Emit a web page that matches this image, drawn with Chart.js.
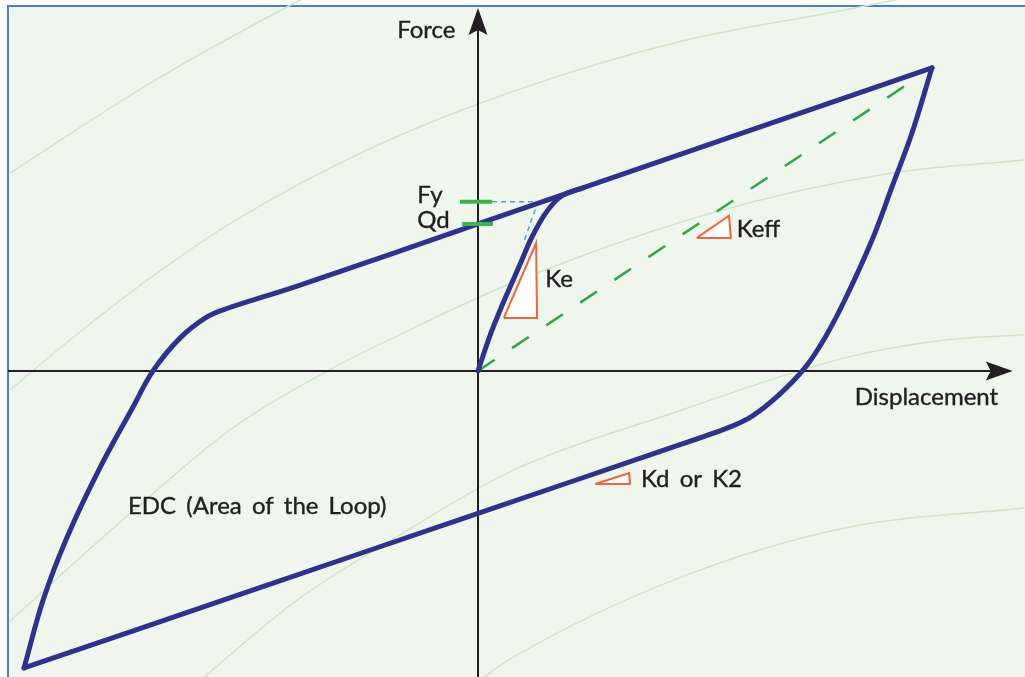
<!DOCTYPE html>
<html lang="en">
<head>
<meta charset="UTF-8">
<title>Hysteresis loop</title>
<script src="https://cdn.jsdelivr.net/npm/chart.js"></script>
<style>
    html, body { margin: 0; padding: 0; background: #fff; overflow: hidden; }
    .frame {
        position: absolute; left: 7px; top: 5px; width: 1100px; height: 760px;
        background: #eff7ed;
        border-top: 2px solid #4a7ed6; border-left: 2px solid #4a7ed6;
    }
    #loopChart { position: absolute; left: 0; top: 0; }
</style>
</head>
<body>
<div class="frame"></div>
<canvas id="loopChart" width="1025" height="677"></canvas>
<script>
// displacement and force, both in % of the peak response
const upperDisp  = [-100, -95.8, -90.5, -83.3, -76.0, -71.6, -65.6, -59.7, -55.3, -40, 0, 100];
const upperForce = [-98, -75.6, -54.8, -32.0, -11.9, 0, 10.9, 17.8, 20.6, 27.9, 48.5, 100];

const lowerDisp  = [100, 95.6, 91.2, 86.8, 80.8, 76.4, 72.0, 66.3, 60.4, 55.3, 40, 0, -50, -100];
const lowerForce = [100, 78.5, 60.7, 43.2, 23.4, 10.9, 1.0, -7.9, -14.9, -18.6, -26.6, -47, -72.5, -98];

// first loading from rest
const initDisp  = [0, 2.6, 5.0, 7.3, 9.5, 11.5, 13.6, 15.6, 17.6, 19.8, 23];
const initForce = [0, 11.5, 20.5, 28.5, 36.0, 43.0, 49.0, 53.5, 56.8, 58.8, 60.3];

// secant to the peak (Keff)
const keffDisp  = [0, 96.5];
const keffForce = [0, 96.5];

// yield point construction
const fyGuideDisp  = [3.1, 13.2, 10.2];
const fyGuideForce = [55.8, 55.8, 43];
const fyTickDisp   = [-4, 3.1];
const fyTickForce  = [55.8, 55.8];
const qdTickDisp   = [-3.5, 3.3];
const qdTickForce  = [48.5, 48.5];

// stiffness symbols
const keTriDisp    = [5.7, 13.0, 12.8, 5.7];
const keTriForce   = [17.5, 17.5, 42.2, 17.5];
const keffTriDisp  = [48.2, 55.7, 55.3, 48.2];
const keffTriForce = [43.9, 43.9, 51.2, 43.9];
const kdTriDisp    = [25.8, 33.5, 33.3, 25.8];
const kdTriForce   = [-37.3, -37.3, -33.7, -37.3];

// faint background contours
const bg1Disp  = [-103.1, -72.2, -42.1, -30.4];
const bg1Force = [65.3, 95.0, 120.1, 129];
const bg2Disp  = [-103.1, -89.9, -72.2, -54.0, -24.4, 7.5, 44.3, 80.8, 97.4];
const bg2Force = [-6.3, 10.2, 30.7, 49.2, 72.9, 92.1, 108.6, 119.1, 124.1];
const bg3Disp  = [-103.1, -76.0, -54.0, -31.9, -18.7, 7.5, 51.5, 91.2, 120.3];
const bg3Force = [-82.5, -46.2, -18.8, 1.0, 10.9, 29.0, 52.1, 65.3, 69.6];
const bg4Disp  = [-63.4, -59.7, -39.2, -17.2, 7.5, 44.3, 80.8, 102.9, 120.3];
const bg4Force = [-105.3, -100.3, -74.9, -54.1, -33.0, -13.2, 4.3, 10.2, 11.9];
const bg5Disp  = [-1.8, 2.0, 7.5, 44.3, 80.8, 120.3];
const bg5Force = [-105.3, -100.3, -94.7, -68.3, -51.8, -45.2];

const DISP_MIN = -105.3, DISP_MAX = 120.5;
const FORCE_MIN = -101, FORCE_MAX = 122.4;

const INK = '#231f20';
const LOOP = '#2e3192';
const ORANGE = '#f0643a';

function series(xs, ys) {
    return xs.map((x, i) => ({ x: x, y: ys[i] }));
}

function curve(label, xs, ys, opts) {
    return Object.assign({
        label: label,
        data: series(xs, ys),
        showLine: true,
        fill: false,
        pointRadius: 0,
        pointHoverRadius: 0,
        borderWidth: 2,
        tension: 0
    }, opts);
}

const gridStyle = { borderColor: '#cfe5c4', borderWidth: 1.5, cubicInterpolationMode: 'monotone', order: 20, isGrid: true };
const loopStyle = { borderColor: LOOP, borderWidth: 5, tension: 0.35, borderCapStyle: 'round', borderJoinStyle: 'round', order: 1 };
const triStyle  = { borderColor: ORANGE, backgroundColor: '#ffffff', fill: 'shape', borderWidth: 2, borderJoinStyle: 'miter', order: 2 };

// text placed at data positions
const notes = [
    { text: 'Force', x: -17.8, y: 109.9 },
    { text: 'Fy', x: -13.4, y: 55.4 },
    { text: 'Qd', x: -13.4, y: 47.2 },
    { text: 'Ke', x: 14.8, y: 27.7 },
    { text: 'Keff', x: 57.0, y: 44.2 },
    { text: 'Displacement', x: 83.0, y: -11.2 },
    { text: 'EDC (Area of the Loop)', x: -77.1, y: -47.2 },
    { text: 'Kd or K2', x: 35.9, y: -38.3 }
];

function arrowHead(ctx, tipX, tipY, dx, dy) {
    const len = 27, half = 9.5, notch = 5;
    const px = -dy, py = dx;
    ctx.beginPath();
    ctx.moveTo(tipX, tipY);
    ctx.lineTo(tipX - dx * len + px * half, tipY - dy * len + py * half);
    ctx.lineTo(tipX - dx * (len - notch), tipY - dy * (len - notch));
    ctx.lineTo(tipX - dx * len - px * half, tipY - dy * len - py * half);
    ctx.closePath();
    ctx.fill();
}

let axesDrawn = false;
const axesPlugin = {
    id: 'crossAxes',
    beforeDatasetsDraw() { axesDrawn = false; },
    beforeDatasetDraw(chart, args) {
        if (axesDrawn || chart.data.datasets[args.index].isGrid) return;
        axesDrawn = true;
        const ctx = chart.ctx, sx = chart.scales.x, sy = chart.scales.y;
        const x0 = sx.getPixelForValue(0), y0 = sy.getPixelForValue(0);
        const left = sx.getPixelForValue(-103.5), right = sx.getPixelForValue(117.8);
        const top = sy.getPixelForValue(119.8), bottom = chart.chartArea.bottom;
        ctx.save();
        ctx.strokeStyle = INK;
        ctx.fillStyle = INK;
        ctx.lineWidth = 2;
        ctx.beginPath();
        ctx.moveTo(left, y0);
        ctx.lineTo(right - 20, y0);
        ctx.moveTo(x0, bottom);
        ctx.lineTo(x0, top + 20);
        ctx.stroke();
        arrowHead(ctx, right, y0, 1, 0);
        arrowHead(ctx, x0, top, 0, -1);
        ctx.restore();
    },
    afterDatasetsDraw(chart) {
        const ctx = chart.ctx, sx = chart.scales.x, sy = chart.scales.y;
        ctx.save();
        ctx.font = '24px Lato';
        ctx.wordSpacing = '4px';
        ctx.fillStyle = INK;
        ctx.strokeStyle = INK;
        ctx.lineWidth = 0.4;
        ctx.textAlign = 'left';
        ctx.textBaseline = 'alphabetic';
        notes.forEach(n => {
            const px = sx.getPixelForValue(n.x), py = sy.getPixelForValue(n.y);
            ctx.fillText(n.text, px, py);
            ctx.strokeText(n.text, px, py);
        });
        ctx.restore();
    }
};

new Chart(document.getElementById('loopChart'), {
    type: 'scatter',
    data: {
        datasets: [
            curve('bg 1', bg1Disp, bg1Force, gridStyle),
            curve('bg 2', bg2Disp, bg2Force, gridStyle),
            curve('bg 3', bg3Disp, bg3Force, gridStyle),
            curve('bg 4', bg4Disp, bg4Force, gridStyle),
            curve('bg 5', bg5Disp, bg5Force, gridStyle),
            curve('Upper branch', upperDisp, upperForce, loopStyle),
            curve('Lower branch', lowerDisp, lowerForce, loopStyle),
            curve('Initial loading', initDisp, initForce, loopStyle),
            curve('Keff', keffDisp, keffForce, { borderColor: '#2aa84a', borderWidth: 2.5, borderDash: [20, 21], order: 4 }),
            curve('Fy guide', fyGuideDisp, fyGuideForce, { borderColor: '#5b9bd5', borderWidth: 1.5, borderDash: [5, 4], order: 5 }),
            curve('Fy', fyTickDisp, fyTickForce, { borderColor: '#3ab54a', borderWidth: 4, order: 0 }),
            curve('Qd', qdTickDisp, qdTickForce, { borderColor: '#3ab54a', borderWidth: 4, order: 0 }),
            curve('Ke', keTriDisp, keTriForce, triStyle),
            curve('Keff symbol', keffTriDisp, keffTriForce, triStyle),
            curve('Kd', kdTriDisp, kdTriForce, triStyle)
        ]
    },
    options: {
        responsive: false,
        animation: false,
        events: [],
        layout: { padding: 0 },
        plugins: {
            legend: { display: false },
            tooltip: { enabled: false }
        },
        scales: {
            x: { type: 'linear', min: DISP_MIN, max: DISP_MAX, display: false },
            y: { type: 'linear', min: FORCE_MIN, max: FORCE_MAX, display: false }
        }
    },
    plugins: [axesPlugin]
});
</script>
</body>
</html>
